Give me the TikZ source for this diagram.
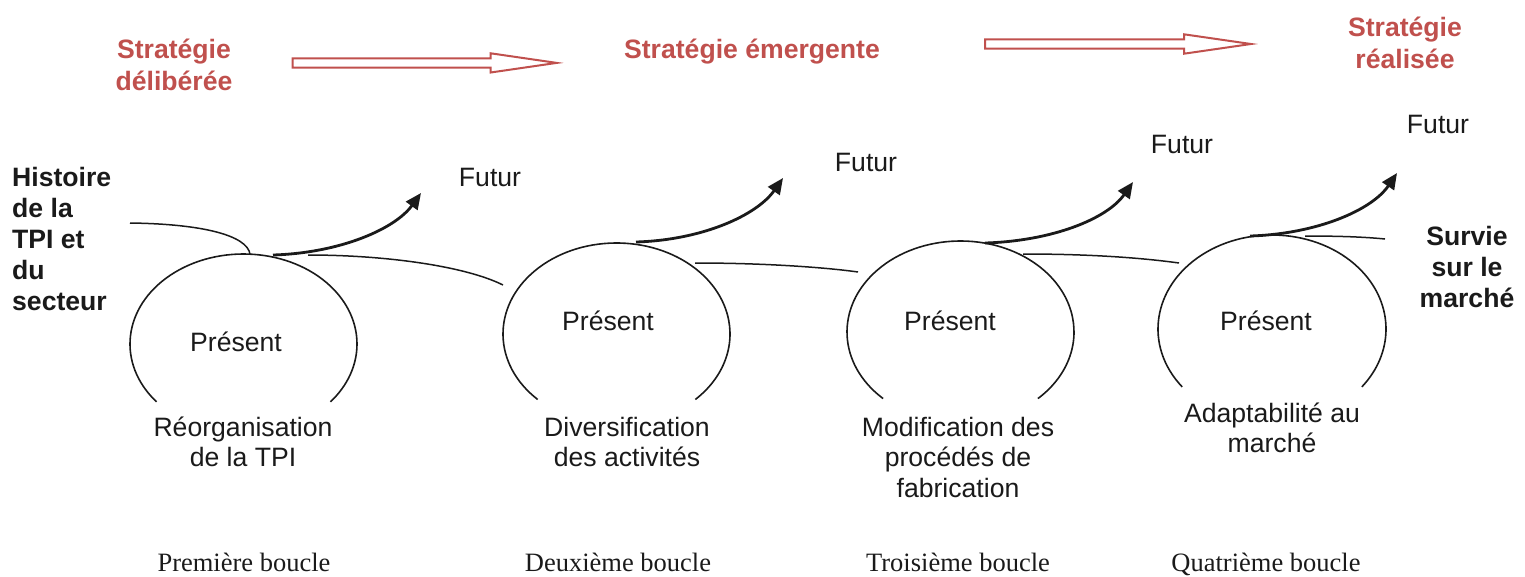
\documentclass[tikz,border=0pt]{standalone}
\usepackage{fontspec}
\setmainfont{Liberation Sans}
\newfontfamily\boucfont{Liberation Serif}
\usetikzlibrary{arrows.meta,calc}
\definecolor{stratred}{HTML}{C0504D}
\definecolor{ink}{HTML}{1A1A1A}
\begin{document}
\begin{tikzpicture}[x=1pt,y=-1pt,
  lbl/.style={inner sep=0pt,font=\fontsize{26.6}{30.5}\selectfont,text=ink,align=center},
  blbl/.style={lbl,font=\fontsize{26.6}{31}\selectfont\bfseries},
  rlbl/.style={lbl,font=\fontsize{26.6}{32}\selectfont\bfseries,text=stratred},
  slbl/.style={inner sep=0pt,font=\fontsize{26.5}{30}\selectfont\boucfont,text=ink},
  loopline/.style={draw=ink,line width=1.6pt},
  thinline/.style={draw=ink,line width=1.5pt},
  futarrow/.style={draw=ink,line width=2.8pt,-{Triangle[length=16pt,width=14pt]}},
  hollow/.style={draw=stratred,line width=2pt,fill=white,line join=miter}
]
\useasboundingbox (0,0) rectangle (1525,576);

% strategy labels
\node[rlbl] (s1) at (174,65) {Stratégie\\délibérée};
\node[rlbl] (s2) at (752,51.5) {Stratégie émergente};
\node[rlbl] (s3) at (1405,43) {Stratégie\\réalisée};

% hollow arrows
\draw[hollow] (292.7,58.3) -- (490.7,58.3) -- (490.7,53.3) -- (556.7,62.9) -- (490.7,72.5) -- (490.7,67.7) -- (292.7,67.7) -- cycle;
\draw[hollow] (985,39.3) -- (1184,39.3) -- (1184,34.3) -- (1251,44) -- (1184,53.7) -- (1184,48.7) -- (985,48.7) -- cycle;

% side labels
\node[blbl,align=left,anchor=north west] (hist) at (12,167) {Histoire\\de la\\TPI et\\du\\secteur};
\node[blbl,anchor=north] (surv) at (1467,226.5) {Survie\\sur le\\marché};

% loop centres
\coordinate (c1) at (243.5,344);
\coordinate (c2) at (616.5,334);
\coordinate (c3) at (960.5,332);
\coordinate (c4) at (1272,329);

% open loops
\draw[loopline] ($(c1)+(140:113.5 and 90)$) arc[start angle=140,end angle=400,x radius=113.5,y radius=90];
\draw[loopline] ($(c2)+(134:113.5 and 91)$) arc[start angle=134,end angle=406,x radius=113.5,y radius=91];
\draw[loopline] ($(c3)+(133:113.5 and 91)$) arc[start angle=133,end angle=407,x radius=113.5,y radius=91];
\draw[loopline] ($(c4)+(142:114 and 94)$) arc[start angle=142,end angle=398,x radius=114,y radius=94];

% Present labels
\node[lbl,anchor=base] (p1) at (236,351) {Présent};
\node[lbl,anchor=base] (p2) at (608,330.5) {Présent};
\node[lbl,anchor=base] (p3) at (950,330.5) {Présent};
\node[lbl,anchor=base] (p4) at (1266,330.5) {Présent};

% Futur labels
\node[lbl,anchor=base] (f1) at (490,186) {Futur};
\node[lbl,anchor=base] (f2) at (866,171.5) {Futur};
\node[lbl,anchor=base] (f3) at (1182,153) {Futur};
\node[lbl,anchor=base] (f4) at (1438,133.5) {Futur};

% arrow and line end points
\coordinate (h0) at (130,223);  \coordinate (h1) at (250,254);
\coordinate (a1s) at (273,255); \coordinate (a1e) at (421,193);
\coordinate (a2s) at (636,242); \coordinate (a2e) at (783,178);
\coordinate (a3s) at (985,243); \coordinate (a3e) at (1133,182);
\coordinate (a4s) at (1250,236);\coordinate (a4e) at (1397,173);
\coordinate (b1s) at (308,255); \coordinate (b1e) at (503,285);
\coordinate (b2s) at (695,263); \coordinate (b2e) at (858,272);
\coordinate (b3s) at (1023,254);\coordinate (b3e) at (1179,263);
\coordinate (b4s) at (1305,236);\coordinate (b4e) at (1385,239);

% history curve
\draw[thinline] (h0) .. controls (205,224) and (247,236) .. (h1);

% future arrows
\draw[futarrow] (a1s) .. controls (340,253) and (395,229) .. (a1e);
\draw[futarrow] (a2s) .. controls (703,240) and (757,215) .. (a2e);
\draw[futarrow] (a3s) .. controls (1052,241) and (1107,219) .. (a3e);
\draw[futarrow] (a4s) .. controls (1317,234) and (1372,210) .. (a4e);

% links between loops
\draw[thinline] (b1s) .. controls (385,255) and (465,266) .. (b1e);
\draw[thinline] (b2s) .. controls (770,263) and (830,268) .. (b2e);
\draw[thinline] (b3s) .. controls (1100,254) and (1150,259) .. (b3e);
\draw[thinline] (b4s) .. controls (1340,236) and (1365,237) .. (b4e);

% loop descriptions
\node[lbl] (d1) at (243,442) {Réorganisation\\de la TPI};
\node[lbl] (d2) at (627,442) {Diversification\\des activités};
\node[lbl] (d3) at (958,457) {Modification des\\procédés de\\fabrication};
\node[lbl] (d4) at (1272,428) {Adaptabilité au\\marché};

% loop names
\node[slbl,anchor=base] (n1) at (244,571) {Première boucle};
\node[slbl,anchor=base] (n2) at (618,571) {Deuxième boucle};
\node[slbl,anchor=base] (n3) at (958,571) {Troisième boucle};
\node[slbl,anchor=base] (n4) at (1266,571) {Quatrième boucle};
\end{tikzpicture}
\end{document}
